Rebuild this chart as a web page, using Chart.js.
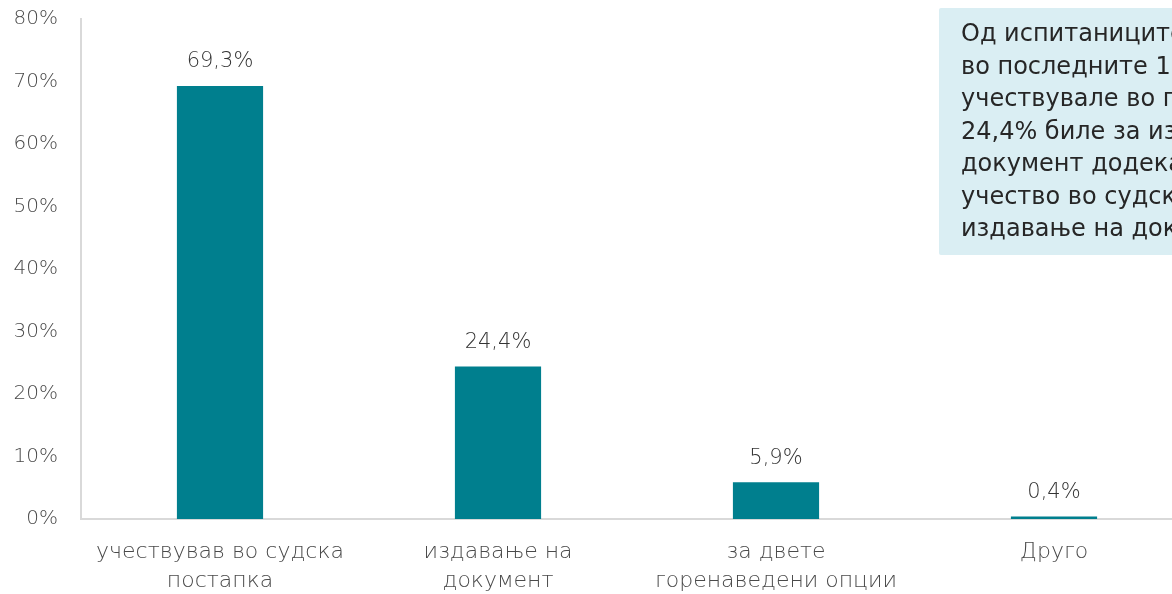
<!DOCTYPE html>
<html>
<head>
<meta charset="utf-8">
<script src="https://cdn.jsdelivr.net/npm/chart.js@4"></script>
<style>
  html, body { margin: 0; padding: 0; background: #fff; overflow: hidden; }
  #wrap { position: relative; width: 1196px; height: 594px; }
  #note {
    position: absolute; left: 939px; top: 8px; width: 300px; height: 247px;
    background: #DAEEF3; color: #262626;
    font-family: "DejaVu Sans", sans-serif; font-size: 24px; line-height: 32.5px;
    padding: 9px 0 0 22px; white-space: nowrap; box-sizing: border-box;
    border-radius: 2px;
  }
</style>
</head>
<body>
<div id="wrap">
  <canvas id="c" width="1196" height="594"></canvas>
  <div id="note">Од испитаниците кои<br>во последните 12 месеци<br>учествувале во постапка,<br>24,4% биле за издавање на<br>документ додека 5,9% за<br>учество во судска постапка и<br>издавање на документ</div>
</div>
<script>
const categories = [
  ["учествував во судска", "постапка"],
  ["издавање на", "документ"],
  ["за двете", "горенаведени опции"],
  ["Друго"]
];
const values = [69.3, 24.4, 5.9, 0.4];
const valueLabels = ["69,3%", "24,4%", "5,9%", "0,4%"];
const yTicks = [0, 10, 20, 30, 40, 50, 60, 70, 80];

const FONT = '"DejaVu Sans", sans-serif';

const dataLabels = {
  id: 'dataLabels',
  afterDatasetsDraw(chart) {
    const ctx = chart.ctx;
    const meta = chart.getDatasetMeta(0);
    ctx.save();
    ctx.font = '200 21px ' + FONT;
    ctx.fillStyle = '#333333';
    ctx.textAlign = 'center';
    ctx.textBaseline = 'middle';
    meta.data.forEach((bar, i) => {
      ctx.fillText(valueLabels[i], bar.x, bar.y - 24);
    });
    ctx.restore();
  }
};

new Chart(document.getElementById('c'), {
  type: 'bar',
  data: {
    labels: categories,
    datasets: [{
      data: values,
      backgroundColor: '#007F8E',
      borderWidth: 0,
      barPercentage: 0.62,
      categoryPercentage: 0.5
    }]
  },
  options: {
    responsive: false,
    animation: false,
    devicePixelRatio: 1,
    layout: { padding: { top: 19, right: 3, left: 0, bottom: 0 } },
    plugins: { legend: { display: false }, tooltip: { enabled: false } },
    scales: {
      y: {
        min: 0, max: 80,
        afterBuildTicks(scale) { scale.ticks = yTicks.map(v => ({ value: v })); },
        afterFit(scale) { scale.width = 81; scale.paddingTop = 0; scale.paddingBottom = 0; },
        grid: { display: false, drawTicks: false },
        border: { display: true, color: '#D9D9D9', width: 2 },
        ticks: {
          callback: v => v + '%',
          color: '#4A4A4A',
          font: { family: FONT, size: 20, weight: 200 },
          padding: 23
        }
      },
      x: {
        afterFit(scale) { scale.height = 75; },
        grid: { display: false, drawTicks: false },
        border: { display: true, color: '#D9D9D9', width: 2 },
        ticks: {
          color: '#4A4A4A',
          font: { family: FONT, size: 22, weight: 200, lineHeight: 1.3 },
          padding: 19,
          maxRotation: 0,
          autoSkip: false
        }
      }
    }
  },
  plugins: [dataLabels]
});
</script>
</body>
</html>
